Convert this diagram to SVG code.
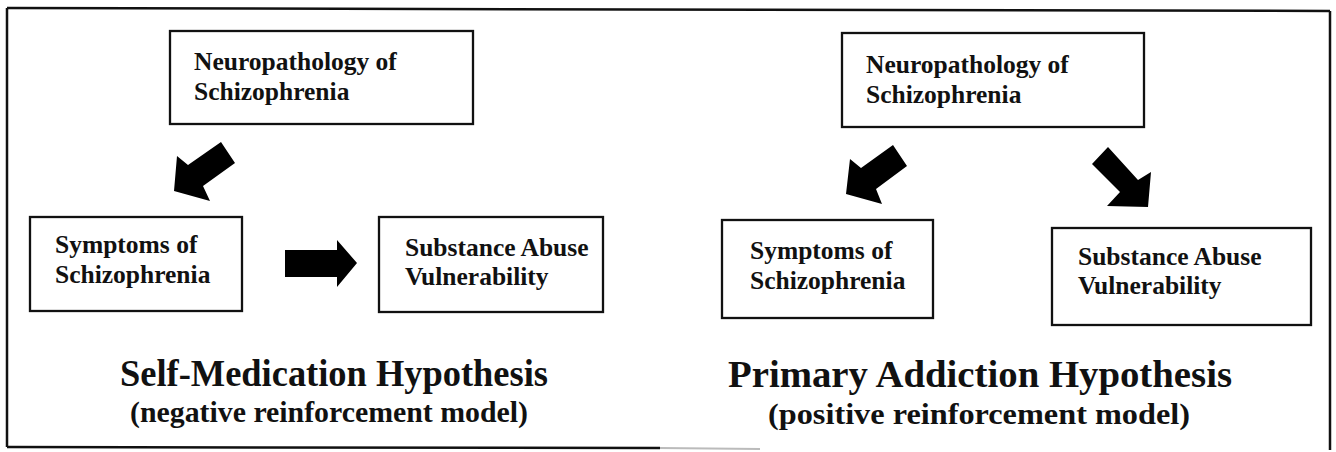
<svg xmlns="http://www.w3.org/2000/svg" width="1336" height="452" viewBox="0 0 1336 452">
<style>
.box{fill:#fff;stroke:#111;stroke-width:2.3}
.t{font-family:"Liberation Serif","Times New Roman",serif;font-weight:bold;font-size:25.5px;fill:#111}
.h1{font-family:"Liberation Serif","Times New Roman",serif;font-weight:bold;font-size:38px;fill:#111}
.h2{font-family:"Liberation Serif","Times New Roman",serif;font-weight:bold;font-size:30px;fill:#111}
.arr{fill:#000}
.frame{stroke:#111;stroke-width:2.5;fill:none}
</style>
<rect width="1336" height="452" fill="#fff"/>
<g id="frame">
<line class="frame" x1="7" y1="8" x2="1330" y2="11"/>
<line class="frame" x1="7" y1="8" x2="7" y2="447"/>
<line class="frame" x1="1330" y1="11" x2="1330" y2="450"/>
<line class="frame" x1="7" y1="447" x2="660" y2="448"/>
<line x1="660" y1="448" x2="760" y2="449" stroke="#bbb" stroke-width="2"/>
</g>
<g id="connectors">
<polygon class="arr" points="174,191 177,156 188,165 221,142 235,163 203,186 210,201"/>
<polygon class="arr" points="285,250 337,250 337,240 357,263 337,287 337,277 285,277"/>
<polygon class="arr" points="846,194 850,159 861,168 893,145 907,166 876,189 882,204"/>
<polygon class="arr" points="1148,207 1151,172 1138,180 1108,147 1092,164 1120,192 1107,206"/>
</g>
<g id="left-neuro">
<rect class="box" x="170" y="31" width="303" height="93"/>
<text class="t" x="194" y="70">Neuropathology of</text>
<text class="t" x="194" y="100">Schizophrenia</text>
</g>
<g id="left-symptoms">
<rect class="box" x="30" y="217" width="212" height="94"/>
<text class="t" x="55" y="253">Symptoms of</text>
<text class="t" x="55" y="283">Schizophrenia</text>
</g>
<g id="left-substance">
<rect class="box" x="379" y="217" width="224" height="95"/>
<text class="t" x="405" y="256">Substance Abuse</text>
<text class="t" x="405" y="285">Vulnerability</text>
</g>
<g id="left-title">
<text class="h1" x="120" y="386" textLength="428" lengthAdjust="spacingAndGlyphs">Self-Medication Hypothesis</text>
<text class="h2" x="130" y="422" textLength="398" lengthAdjust="spacingAndGlyphs">(negative reinforcement model)</text>
</g>
<g id="right-neuro">
<rect class="box" x="842" y="33" width="302" height="94"/>
<text class="t" x="866" y="73">Neuropathology of</text>
<text class="t" x="866" y="103">Schizophrenia</text>
</g>
<g id="right-symptoms">
<rect class="box" x="722" y="220" width="211" height="98"/>
<text class="t" x="750" y="259">Symptoms of</text>
<text class="t" x="750" y="289">Schizophrenia</text>
</g>
<g id="right-substance">
<rect class="box" x="1052" y="228" width="259" height="97"/>
<text class="t" x="1078" y="265">Substance Abuse</text>
<text class="t" x="1078" y="294">Vulnerability</text>
</g>
<g id="right-title">
<text class="h1" x="728" y="387" textLength="504" lengthAdjust="spacingAndGlyphs">Primary Addiction Hypothesis</text>
<text class="h2" x="768" y="424" textLength="422" lengthAdjust="spacingAndGlyphs">(positive reinforcement model)</text>
</g>
</svg>
